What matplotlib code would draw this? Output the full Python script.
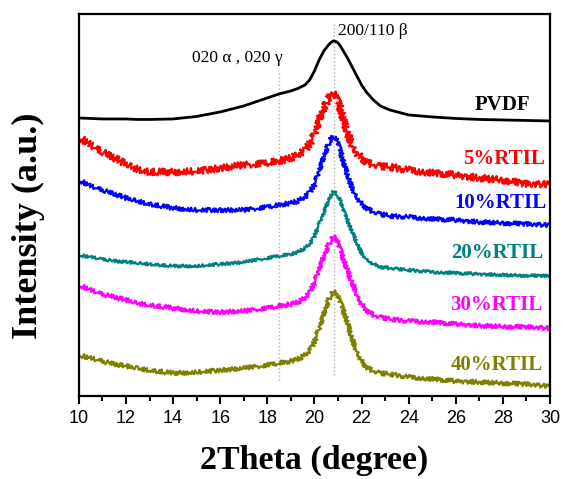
import numpy as np
import matplotlib
matplotlib.use("Agg")
import matplotlib.pyplot as plt
from matplotlib.ticker import MultipleLocator

# 2theta grid (degree)
two_theta = [10, 10.5, 11, 11.5, 12, 12.5, 13, 14, 15, 16, 17, 18, 18.5, 19, 19.3, 19.6,
             19.8, 20.0, 20.2, 20.4, 20.6, 20.7, 20.8, 20.9, 21.0, 21.1, 21.2, 21.4, 21.6,
             21.8, 22.0, 22.2, 22.5, 22.8, 23.2, 24, 25, 26, 27, 28, 29, 30]

# stacked intensities (a.u., offsets included)
pvdf = [278, 277.5, 277, 277, 277, 276.5, 276.5, 277, 279.5, 284, 290, 298, 302, 305, 307.5,
        311, 316, 325, 336, 345, 351, 353.5, 355, 354.5, 353, 350, 346, 338, 329, 320, 311,
        304, 296, 290, 286, 281, 279, 277.5, 276.5, 276, 275.5, 275]
rtil5 = [259, 251, 244, 238, 232, 227, 224, 224, 225, 228, 231, 233, 235, 238, 241, 246,
         252, 262, 277, 288, 297, 301, 303, 301, 296, 288, 278, 263, 251, 243, 238, 234,
         231, 230, 229, 226, 223, 221, 218, 216, 212, 212]
rtil10 = [216, 210, 206, 202, 198, 195, 192, 188, 186, 186, 186, 189, 191, 193, 195, 199,
          204, 211, 226, 240, 252, 257, 259, 258, 254, 246, 236, 221, 208, 199, 192, 188,
          184, 182, 180, 179, 177, 176, 174, 173, 172, 171]
rtil20 = [141, 139, 137, 135, 134, 133, 132, 130, 130, 132, 134, 138, 140, 142, 144, 148,
          152, 160, 172, 184, 196, 201, 204, 203, 200, 195, 188, 176, 164, 153, 143, 137,
          132, 129, 128, 126, 124, 123, 122, 121, 120.5, 120]
rtil30 = [111, 106, 102, 99, 96, 93, 91, 88, 85, 84, 85, 88, 90, 92, 94, 98,
          104, 113, 128, 140, 151, 156, 159, 158, 154, 147, 139, 125, 113, 102, 92, 86,
          81, 79, 77, 75, 74, 72, 70.5, 69.5, 69, 68]
rtil40 = [41, 38, 35, 32, 30, 28, 26, 23, 24, 26, 28, 31, 33, 35, 37, 41,
          46, 54, 68, 83, 96, 101, 104, 103, 100, 95, 88, 73, 57, 45, 35, 29,
          25, 23, 22, 19, 17, 15, 14, 13, 12, 10]

series = [pvdf, rtil5, rtil10, rtil20, rtil30, rtil40]
names = ["PVDF", "5%RTIL", "10%RTIL", "20%RTIL", "30%RTIL", "40%RTIL"]
colors = ["black", "#ff0000", "#0000ff", "#008080", "#ff00ff", "#808000"]
label_x = [29.15, 29.8, 29.85, 29.7, 29.7, 29.7]
label_y = [286, 232, 188, 138, 86, 26]
# noise look of the measured traces (sketch amplitude in px)
noise = [0, 3.5, 2.2, 1.5, 2.2, 2.2]
widths = [2.0, 1.6, 1.6, 1.6, 1.6, 1.6]

# reference peak lines: position, bottom, top
peak_x = [18.5, 20.83]
peak_lo = [16, 21]
peak_hi = [324, 374]

plt.rcParams["font.family"] = ["Liberation Serif", "DejaVu Serif"]

fig = plt.figure(figsize=(5.63, 4.79), dpi=100)
ax = fig.add_axes([0.140, 0.173, 0.837, 0.798])

ax.vlines(peak_x, peak_lo, peak_hi, colors="#b0b0b0", linestyles=":", linewidth=1.0)

for y, c, nz, lw in zip(series, colors, noise, widths):
    ln, = ax.plot(two_theta, y, color=c, lw=lw)
    if nz:
        ln.set_sketch_params(scale=nz, length=2.5, randomness=2)

for n, c, lx, ly in zip(names, colors, label_x, label_y):
    ax.text(lx, ly, n, color=c, fontsize=15, fontweight="bold", ha="right", va="baseline")

ax.text(14.8, 334, "020 α , 020 γ", fontsize=12.5, va="baseline")
ax.text(21.0, 361, "200/110 β", fontsize=12.5, va="baseline")

ax.set_xlim(10, 30)
ax.set_ylim(0, 382)
ax.xaxis.set_major_locator(MultipleLocator(2))
ax.xaxis.set_minor_locator(MultipleLocator(1))
ax.set_yticks([])
ax.tick_params(axis="x", which="major", direction="out", length=6, width=1.5, pad=4,
               labelsize=13, labelfontfamily="Liberation Sans")
ax.tick_params(axis="x", which="minor", direction="out", length=3.5, width=1.5)
for s in ax.spines.values():
    s.set_linewidth(1.6)

ax.set_xlabel("2Theta (degree)", fontsize=24.5, fontweight="bold", labelpad=13)
ax.set_ylabel("Intensity (a.u.)", fontsize=26, fontweight="bold")
ax.yaxis.set_label_coords(-0.072, 0.445)

fig.savefig("out.png", dpi=100)
